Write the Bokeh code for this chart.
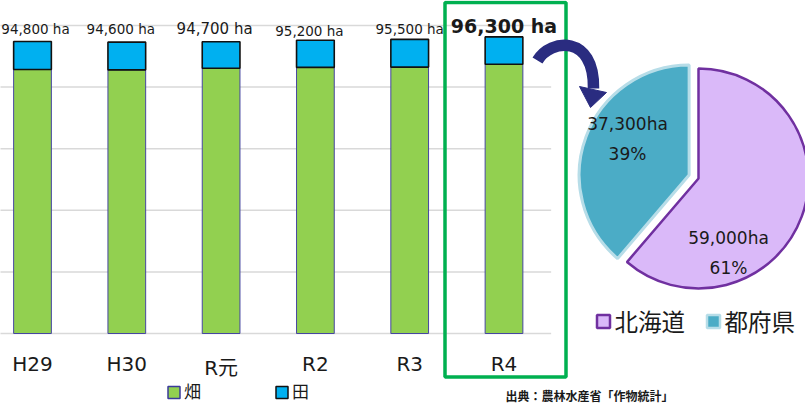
from bokeh.plotting import figure
from bokeh.models import Range1d, ColumnDataSource
from bokeh.core.properties import value
from bokeh.embed import file_html
from bokeh.resources import INLINE
import math

# ---------------- data ----------------
years = ["H29", "H30", "R元", "R2", "R3", "R4"]
hata = [85700, 85600, 86100, 86400, 86500, 87400]      # 畑
ta = [9100, 9000, 8600, 8800, 9000, 8900]              # 田
totals = [94800, 94600, 94700, 95200, 95500, 96300]
series_names = ["畑", "田"]
grid_values = [0, 20000, 40000, 60000, 80000, 100000]

pie_names = ["北海道", "都府県"]
pie_values = [59000, 37300]
pie_total = 96300
source_note = "出典：農林水産省「作物統計」"

# ---------------- styles / layout ----------------
W, H = 805, 403
X0PX, STEP = 32.0, 94.3          # pixel of first category centre, pixels per category
Y0PX, PER = 333.0, 3.08 / 1000   # baseline pixel, pixels per ha
GREEN = "#92d050"
BLUE = "#00b0f0"
LAV = "#dab9f9"
PURPLE = "#7030a0"
TEAL = "#4bacc6"
TEAL_EDGE = "#b7dde8"
NAVY = "#2a2c80"
TXT = "#1a1a1a"
LATIN = "DejaVu Sans"
CJK = "Noto Sans CJK JP"

p = figure(width=W, height=H, output_backend="svg", toolbar_location=None,
           x_range=Range1d(-X0PX / STEP, (W - X0PX) / STEP),
           y_range=Range1d(-(H - Y0PX) / PER, Y0PX / PER),
           x_axis_location=None, y_axis_location=None,
           min_border=0, outline_line_color=None, background_fill_color="white")
p.grid.visible = False
p.extra_x_ranges = {"px": Range1d(0, W)}
p.extra_y_ranges = {"py": Range1d(H, 0)}

idx = list(range(len(years)))

# grid lines (only across the bar area)
for g in grid_values:
    p.segment(x0=[-1.0], x1=[5.5], y0=[g], y1=[g], line_color="#d9d9d9", line_width=1.5)

# stacked bars
src = ColumnDataSource(dict(x=idx, hata=hata, ta=ta))
p.vbar_stack(["hata", "ta"], x="x", width=0.40, source=src,
             fill_color=[GREEN, BLUE], line_color=["#4646a0", "#111111"],
             line_width=[1, 1.6])

# value labels above bars
label_dx = [3, -6, -6.5, -6, 0, 0]
label_y = [28, 28, 28, 30, 28, 25]
label_size = ["13.5px", "13.5px", "15px", "13.5px", "13.5px", "19px"]
label_style = ["normal"] * 5 + ["bold"]
for i in idx:
    p.text(x=[i], y=[label_y[i]], y_range_name="py",
           text=[f"{totals[i]:,} ha"], x_offset=label_dx[i],
           text_align="center", text_baseline="middle",
           text_font=value(LATIN), text_font_size=label_size[i],
           text_font_style=label_style[i], text_color=TXT)

# category labels
tick_y = [363, 363, 367, 363, 363, 363]
for i in idx:
    p.text(x=[i], y=[tick_y[i]], y_range_name="py", text=[years[i]],
           text_align="center", text_baseline="middle",
           text_font=value(LATIN + ", " + CJK), text_font_size="20px",
           text_color=TXT)

# bar legend
leg_x = [173.5, 281.5]
leg_fill = [GREEN, BLUE]
leg_line = ["#3a3a9a", "#111111"]
for k, name in enumerate(series_names):
    p.rect(x=[leg_x[k]], y=[392], width=12, height=12, x_range_name="px",
           y_range_name="py", fill_color=leg_fill[k], line_color=leg_line[k],
           line_width=1.5)
    p.text(x=[leg_x[k] + 10], y=[390], x_range_name="px", y_range_name="py",
           text=[name], text_align="left", text_baseline="middle",
           text_font=value(CJK), text_font_size="17px", text_color=TXT)

# green highlight box around R4
p.quad(left=[444.5], right=[565.5], top=[2], bottom=[376.5], x_range_name="px",
       y_range_name="py", fill_color=None, line_color="#00b050", line_width=3.5)

# curved arrow
p.bezier(x0=[537], y0=[60], cx0=[550], cy0=[38], cx1=[594], cy1=[34], x1=[593], y1=[88],
         x_range_name="px", y_range_name="py", line_color=NAVY, line_width=11.5,
         line_cap="butt")
p.patch(x=[579, 606, 590], y=[86, 92, 107], x_range_name="px", y_range_name="py",
        fill_color=NAVY, line_color=NAVY, line_width=1)

# pie
frac = pie_values[0] / pie_total
a_top = math.pi / 2
a_split = a_top - frac * 2 * math.pi
cx, cy, R = 698, 178, 110
mid = (a_top + a_split + 2 * math.pi) / 2
off = 10
p.wedge(x=[cx], y=[cy], radius=R, radius_units="screen",
        start_angle=a_split, end_angle=a_top, direction="anticlock",
        x_range_name="px", y_range_name="py",
        fill_color=LAV, line_color=PURPLE, line_width=2.5)
p.wedge(x=[cx + off * math.cos(mid)], y=[cy - off * math.sin(mid)], radius=R,
        radius_units="screen", start_angle=a_top, end_angle=a_split + 2 * math.pi,
        direction="anticlock", x_range_name="px", y_range_name="py",
        fill_color=TEAL, line_color=TEAL_EDGE, line_width=3)

pie_lab_pos = [(728, 237, 267), (627, 123, 153)]
for k in range(2):
    lx, ly1, ly2 = pie_lab_pos[k]
    pct = round(pie_values[k] / pie_total * 100)
    p.text(x=[lx, lx], y=[ly1, ly2], x_range_name="px", y_range_name="py",
           text=[f"{pie_values[k]:,}ha", f"{pct}%"], text_align="center",
           text_baseline="middle", text_font=value(LATIN),
           text_font_size="17px", text_color=TXT)

# pie legend
pl_x = [603, 713]
pl_fill = [LAV, TEAL]
pl_line = [PURPLE, TEAL_EDGE]
for k, name in enumerate(pie_names):
    p.rect(x=[pl_x[k]], y=[321], width=13, height=13, x_range_name="px",
           y_range_name="py", fill_color=pl_fill[k], line_color=pl_line[k],
           line_width=2.5)
    p.text(x=[pl_x[k] + 11], y=[320], x_range_name="px", y_range_name="py",
           text=[name], text_align="left", text_baseline="middle",
           text_font=value(CJK), text_font_size="23.5px", text_color=TXT)

# source note
p.text(x=[589], y=[395], x_range_name="px", y_range_name="py", text=[source_note],
       text_align="center", text_baseline="middle", text_font=value(CJK),
       text_font_size="12px", text_font_style="bold", text_color=TXT)

open("out.html", "w").write(file_html(p, INLINE))
